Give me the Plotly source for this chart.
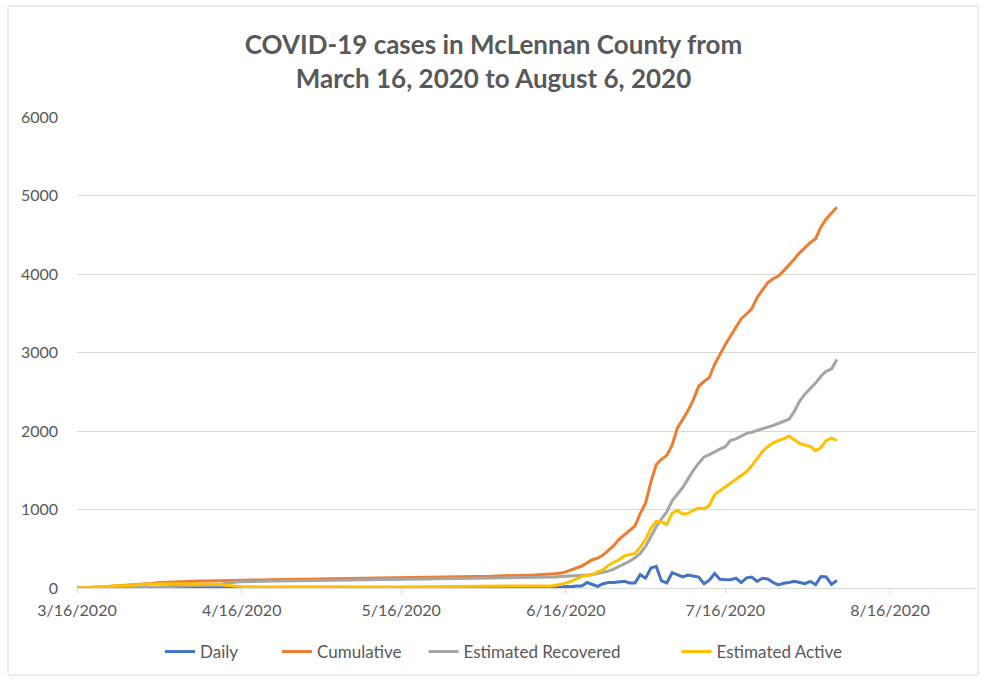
import pandas as pd
import plotly.graph_objects as go

# Dates: 3/16/2020 .. 8/6/2020 (144 days)
dates = pd.date_range("2020-03-16", "2020-08-06", freq="D")

daily = [
    1, 1, 2, 4, 4, 4, 4, 5, 5, 8, 4, 3, 3, 4, 6, 8,
    4, 3, 3, 3, 3, 2, 2, 2, 2, 2, 2, 2, 1, 1, 1, 1, 1, 1, 0, 1, 1, 1, 1, 2, 2, 2, 2, 1, 1, 1,
    1, 0, 1, 0, 1, 0, 1, 0, 1, 0, 1, 0, 1, 0, 1, 1, 1, 1, 1, 1, 1, 1, 1, 1, 1, 1, 2, 2, 1, 1, 2,
    2, 4, 4, 3, 1, 1, 1, 2, 1, 2, 3, 4, 4,
    5, 10, 20, 15, 25, 25, 70, 45, 20, 55, 70, 70, 80, 85, 65, 64, 170,
    125, 255, 275, 90, 65, 195, 170, 140, 165, 150, 140, 55, 100, 185, 110, 105, 105, 125, 70, 130,
    140, 85, 125, 115, 70, 40, 60, 70, 85, 70, 55,
    85, 42, 145, 140, 45, 95,
]

cumulative = [
    1, 2, 4, 8, 12, 16, 20, 25, 30, 38, 42, 45, 48, 52, 58, 66,
    70, 73, 76, 79, 82, 84, 86, 88, 90, 92, 94, 96, 97, 98, 99, 100, 101, 102, 102, 103, 104, 105,
    106, 108, 110, 112, 114, 115, 116, 117,
    118, 118, 119, 119, 120, 120, 121, 121, 122, 122, 123, 123, 124, 124, 125, 126, 127, 128, 129,
    130, 131, 132, 133, 134, 135, 136, 138, 140, 141, 142, 144,
    146, 150, 154, 157, 158, 159, 160, 162, 163, 165, 168, 172, 176,
    180, 190, 205, 230, 255, 280, 320, 360, 380, 420, 480, 540, 620, 680, 730, 790, 950,
    1080, 1350, 1570, 1640, 1690, 1820, 2040, 2150, 2260, 2400, 2570, 2630, 2680, 2850, 2980, 3100,
    3210, 3320, 3430, 3490, 3560, 3700, 3800, 3890, 3940, 3975, 4040, 4110, 4190, 4270, 4340,
    4400, 4450, 4600, 4700, 4770, 4850,
]

recovered = [
    0, 0, 0, 0, 0, 0, 0, 0, 0, 0, 0, 0, 0, 0, 5, 10,
    14, 18, 20, 22, 24, 26, 35, 38, 40, 42, 44, 46, 60, 70, 76, 80, 83, 85, 86, 87, 88, 89, 90, 91,
    92, 93, 94, 95, 96, 97,
    98, 99, 100, 101, 102, 103, 104, 105, 106, 106, 107, 107, 108, 108, 109, 109, 110, 110, 111, 111,
    112, 112, 113, 113, 114, 115, 116, 117, 118, 119, 120,
    122, 124, 126, 128, 129, 130, 131, 132, 133, 134, 135, 136, 138,
    140, 145, 148, 150, 155, 160, 165, 172, 185, 200, 215, 240, 270, 300, 340, 385, 440,
    530, 660, 780, 880, 970, 1110, 1200, 1280, 1390, 1500, 1590, 1670, 1700, 1740, 1770, 1800,
    1880, 1900, 1930, 1970, 1985, 2010, 2030, 2050, 2070, 2100, 2130, 2150, 2250, 2380, 2470,
    2540, 2610, 2700, 2760, 2790, 2910,
]

active = [
    1, 2, 4, 8, 12, 16, 20, 25, 30, 38, 42, 45, 48, 52, 52, 55,
    55, 54, 55, 56, 57, 57, 50, 49, 49, 49, 49, 49, 35, 26, 21, 18, 16, 15, 14, 14, 14, 14, 14, 15,
    16, 17, 18, 18, 18, 18,
    18, 17, 17, 16, 16, 15, 15, 14, 12, 10, 8, 10, 14, 14, 14, 15, 15, 16, 16, 17, 17, 18, 18, 19,
    19, 19, 20, 21, 21, 21, 22,
    22, 24, 26, 27, 27, 27, 27, 28, 28, 29, 26, 24, 22,
    30, 45, 65, 85, 115, 148, 160, 172, 205, 230, 290, 320, 360, 410, 425, 440, 520,
    620, 760, 850, 840, 810, 950, 990, 940, 950, 990, 1020, 1010, 1050, 1190, 1240, 1290,
    1340, 1390, 1440, 1480, 1560, 1650, 1740, 1800, 1850, 1880, 1900, 1935, 1890, 1840, 1820,
    1805, 1750, 1790, 1880, 1910, 1880,
]

series_names = ["Daily", "Cumulative", "Estimated Recovered", "Estimated Active"]
series_colors = ["#4472C4", "#ED7D31", "#A5A5A5", "#FFC000"]

tick_dates = ["2020-03-16", "2020-04-16", "2020-05-16", "2020-06-16", "2020-07-16", "2020-08-16"]
tick_labels = ["3/16/2020", "4/16/2020", "5/16/2020", "6/16/2020", "7/16/2020", "8/16/2020"]

TXT = "#595959"
GRID = "#D9D9D9"
FONT = "Lato, 'Open Sans', sans-serif"

# invisible trailing padding (en spaces) to reproduce the legend's spacing
legend_pad = ["\u2002" * 4, "\u2002" * 2, "\u2002" * 6, ""]

fig = go.Figure()
for name, vals, col, pad in zip(series_names, [daily, cumulative, recovered, active],
                                series_colors, legend_pad):
    fig.add_trace(go.Scatter(
        x=dates, y=vals, name=name + pad, mode="lines",
        line=dict(color=col, width=3), hovertemplate=name + ": %{y}<extra></extra>",
    ))

fig.update_layout(
    width=987, height=679,
    paper_bgcolor="white", plot_bgcolor="white",
    margin=dict(l=77, r=12, t=117, b=91, autoexpand=False),
    font=dict(family=FONT, color=TXT, size=14),
    title=dict(
        text="<b>COVID-19 cases in McLennan County from<br>March 16, 2020 to August 6, 2020</b>",
        x=0.5, xref="container", xanchor="center",
        y=1 - 54 / 679, yref="container", yanchor="middle",
        font=dict(family=FONT, size=26, color=TXT),
    ),
    showlegend=True,
    legend=dict(
        orientation="h", x=0.4755, xanchor="center",
        y=1 - 652 / 679, yref="container", yanchor="middle",
        font=dict(family=FONT, size=17, color=TXT),
        traceorder="normal", itemwidth=30,
    ),
    xaxis=dict(
        type="date", range=["2020-03-16", "2020-09-01"],
        tickmode="array", tickvals=tick_dates, ticktext=tick_labels,
        showline=True, linecolor=GRID, linewidth=1,
        ticks="outside", ticklen=5, tickcolor=GRID,
        showgrid=False, zeroline=False,
        tickfont=dict(family=FONT, size=16, color=TXT),
        ticklabelstandoff=3,
    ),
    yaxis=dict(
        range=[0, 6000], dtick=1000, tick0=0,
        showgrid=True, gridcolor=GRID, gridwidth=1,
        showline=False, zeroline=False, ticks="",
        tickfont=dict(family=FONT, size=16, color=TXT),
        ticklabelstandoff=18,
    ),
    shapes=[dict(
        type="rect", xref="paper", yref="paper",
        x0=(8 - 77) / 898, x1=(978 - 77) / 898,
        y0=(588 - 675) / 471, y1=(588 - 6) / 471,
        line=dict(color=GRID, width=1), fillcolor="rgba(0,0,0,0)", layer="below",
    )],
)

fig.write_html(
    "out.html",
    config={"displayModeBar": False},
    post_script="document.body.style.margin='0';document.body.style.overflow='hidden';",
)
